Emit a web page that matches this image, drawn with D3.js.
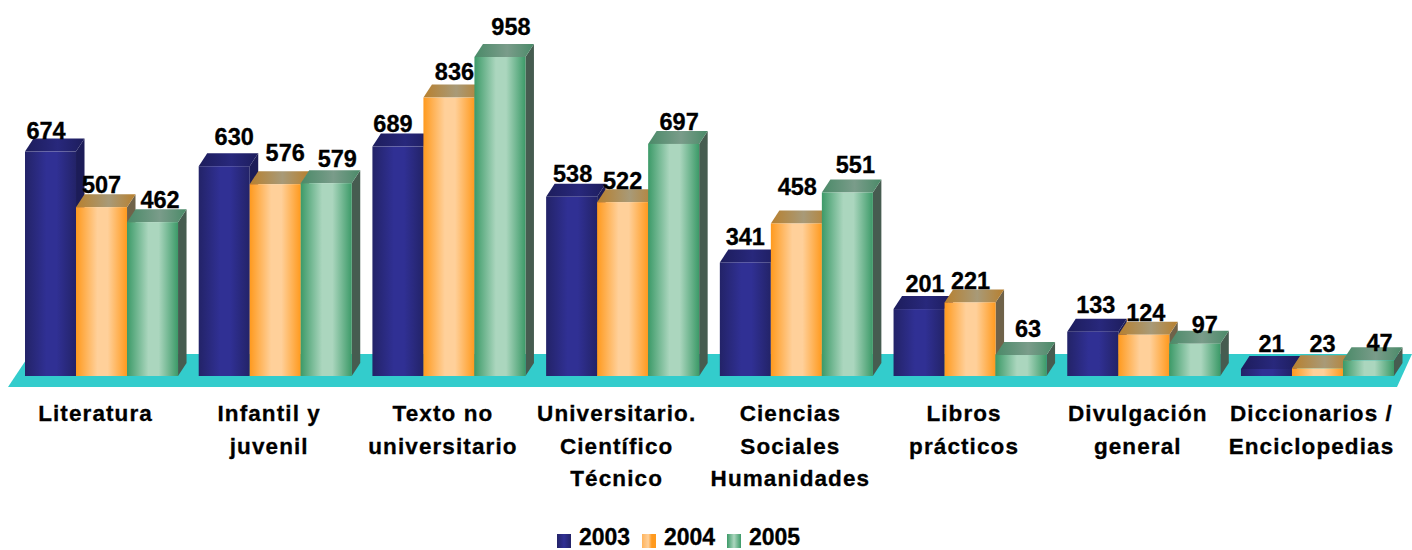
<!DOCTYPE html>
<html>
<head>
<meta charset="utf-8">
<script src="https://cdn.jsdelivr.net/npm/d3@7"></script>
<style>
html, body { margin: 0; padding: 0; background: #fff; }
svg { display: block; }
text { font-family: "Liberation Sans", Arial, sans-serif; font-weight: bold; fill: #000; stroke: #000; stroke-width: 0.3px; }
</style>
</head>
<body>
<svg></svg>
<script>
var categories = ["Literatura", "Infantil y\njuvenil", "Texto no\nuniversitario", "Universitario.\nCientífico\nTécnico",
    "Ciencias\nSociales\nHumanidades", "Libros\nprácticos", "Divulgación\ngeneral", "Diccionarios /\nEnciclopedias"];
var years = ["2003", "2004", "2005"];
var v2003 = [674, 630, 689, 538, 341, 201, 133, 21];
var v2004 = [507, 576, 836, 522, 458, 221, 124, 23];
var v2005 = [462, 579, 958, 697, 551, 63, 97, 47];
var values = [v2003, v2004, v2005];

// the labels in the picture were placed by hand, so these go per bar
var labelDx = [[-4.5, 0, 7.5], [10, 10, 11], [-5, 5.5, 11], [1, 0, 5.5], [0, 1, 8], [6, 0.5, 7], [3, 2, 10], [5, 5, 11]];
var labelDy = [[-12.5, -14, -14], [-21, -23, -16], [-15, -18, -22], [-15, -13, -14], [-17, -28, -19.5], [-17, -13, -18], [-19, -14, -11], [-17, -16, -9]];

var width = 1412;
var height = 550;
var depthX = 8.5;
var depthY = 13;

var colors = [
    { edge: "#232368", mid: "#303094", top0: "#1d1d5c", top1: "#28287c", side: "#1c1c58" },
    { edge: "#ff9a1e", mid: "#ffd09a", top0: "#b8802e", top1: "#a89a78", side: "#6f6249" },
    { edge: "#3c9a68", mid: "#abd6be", top0: "#4a8a68", top1: "#7a9c8a", side: "#465c50" }
];

var svg = d3.select("svg").attr("width", width).attr("height", height);
var defs = svg.append("defs");

var x0 = d3.scaleBand().domain(categories).range([25, 1394]).paddingInner(0.119).paddingOuter(0);
var x1 = d3.scaleBand().domain(years).range([0, x0.bandwidth()]);
var y = d3.scaleLinear().domain([0, 958]).range([376, 57]);

colors.forEach(function(c, i) {
    var g = defs.append("linearGradient").attr("id", "front" + i);
    [[0, c.edge], [0.42, c.mid], [0.62, c.mid], [1, c.edge]].forEach(function(s) {
        g.append("stop").attr("offset", s[0]).attr("stop-color", s[1]);
    });
    var t = defs.append("linearGradient").attr("id", "top" + i);
    [[0, c.top0], [0.55, c.top1], [1, c.top0]].forEach(function(s) {
        t.append("stop").attr("offset", s[0]).attr("stop-color", s[1]);
    });
});

// floor
svg.append("path")
    .attr("d", "M8," + (y(0) + 11) + "L30," + (y(0) - 22) + "L1412," + (y(0) - 22) + "L1397," + (y(0) + 11) + "Z")
    .attr("fill", "#33cccc");

// bars, left to right so each one covers the side of the previous
categories.forEach(function(cat, i) {
    years.forEach(function(yr, j) {
        var v = values[j][i];
        var left = x0(cat) + x1(yr);
        var right = left + x1.bandwidth();
        var top = y(v);
        var g = svg.append("g").attr("class", "bar");
        g.append("path")
            .attr("d", "M" + right + "," + top + "L" + (right + depthX) + "," + (top - depthY) +
                "L" + (right + depthX) + "," + (y(0) - depthY) + "L" + right + "," + y(0) + "Z")
            .attr("fill", colors[j].side);
        g.append("path")
            .attr("d", "M" + left + "," + top + "L" + (left + depthX) + "," + (top - depthY) +
                "L" + (right + depthX) + "," + (top - depthY) + "L" + right + "," + top + "Z")
            .attr("fill", "url(#top" + j + ")");
        g.append("rect")
            .attr("x", left).attr("y", top)
            .attr("width", x1.bandwidth()).attr("height", y(0) - top)
            .attr("fill", "url(#front" + j + ")");
    });
});

// value labels go last, they overlap the bar tops
categories.forEach(function(cat, i) {
    years.forEach(function(yr, j) {
        svg.append("text")
            .attr("x", x0(cat) + x1(yr) + x1.bandwidth() / 2 + labelDx[i][j])
            .attr("y", y(values[j][i]) + labelDy[i][j])
            .attr("text-anchor", "middle")
            .style("font-size", "23.5px")
            .text(values[j][i]);
    });
});

// category labels
var axis = svg.append("g")
    .attr("transform", "translate(-6,0)")
    .selectAll("text")
    .data(categories)
    .enter().append("text")
    .attr("text-anchor", "middle")
    .style("font-size", "22.5px")
    .style("letter-spacing", "1.1px");
axis.each(function(d) {
    var t = d3.select(this);
    d.split("\n").forEach(function(line, k) {
        t.append("tspan")
            .attr("x", x0(d) + x0.bandwidth() / 2)
            .attr("y", 421 + k * 32.5)
            .text(line);
    });
});

// legend
var legendX = [557, 642, 727];
var swatchStops = [
    [[0, "#232368"], [0.5, "#303094"], [1, "#232368"]],
    [[0, "#ffb45c"], [0.45, "#ffd09a"], [0.7, "#ff9a1e"], [1, "#ff9a1e"]],
    [[0, "#3c9a68"], [0.5, "#abd6be"], [1, "#3c9a68"]]
];
years.forEach(function(yr, j) {
    var g = defs.append("linearGradient").attr("id", "swatch" + j);
    swatchStops[j].forEach(function(s) {
        g.append("stop").attr("offset", s[0]).attr("stop-color", s[1]);
    });
    svg.append("rect")
        .attr("x", legendX[j]).attr("y", 534)
        .attr("width", 14).attr("height", 14)
        .attr("fill", "url(#swatch" + j + ")");
    svg.append("text")
        .attr("x", legendX[j] + 22).attr("y", 545)
        .style("font-size", "23px")
        .text(yr);
});
</script>
</body>
</html>
